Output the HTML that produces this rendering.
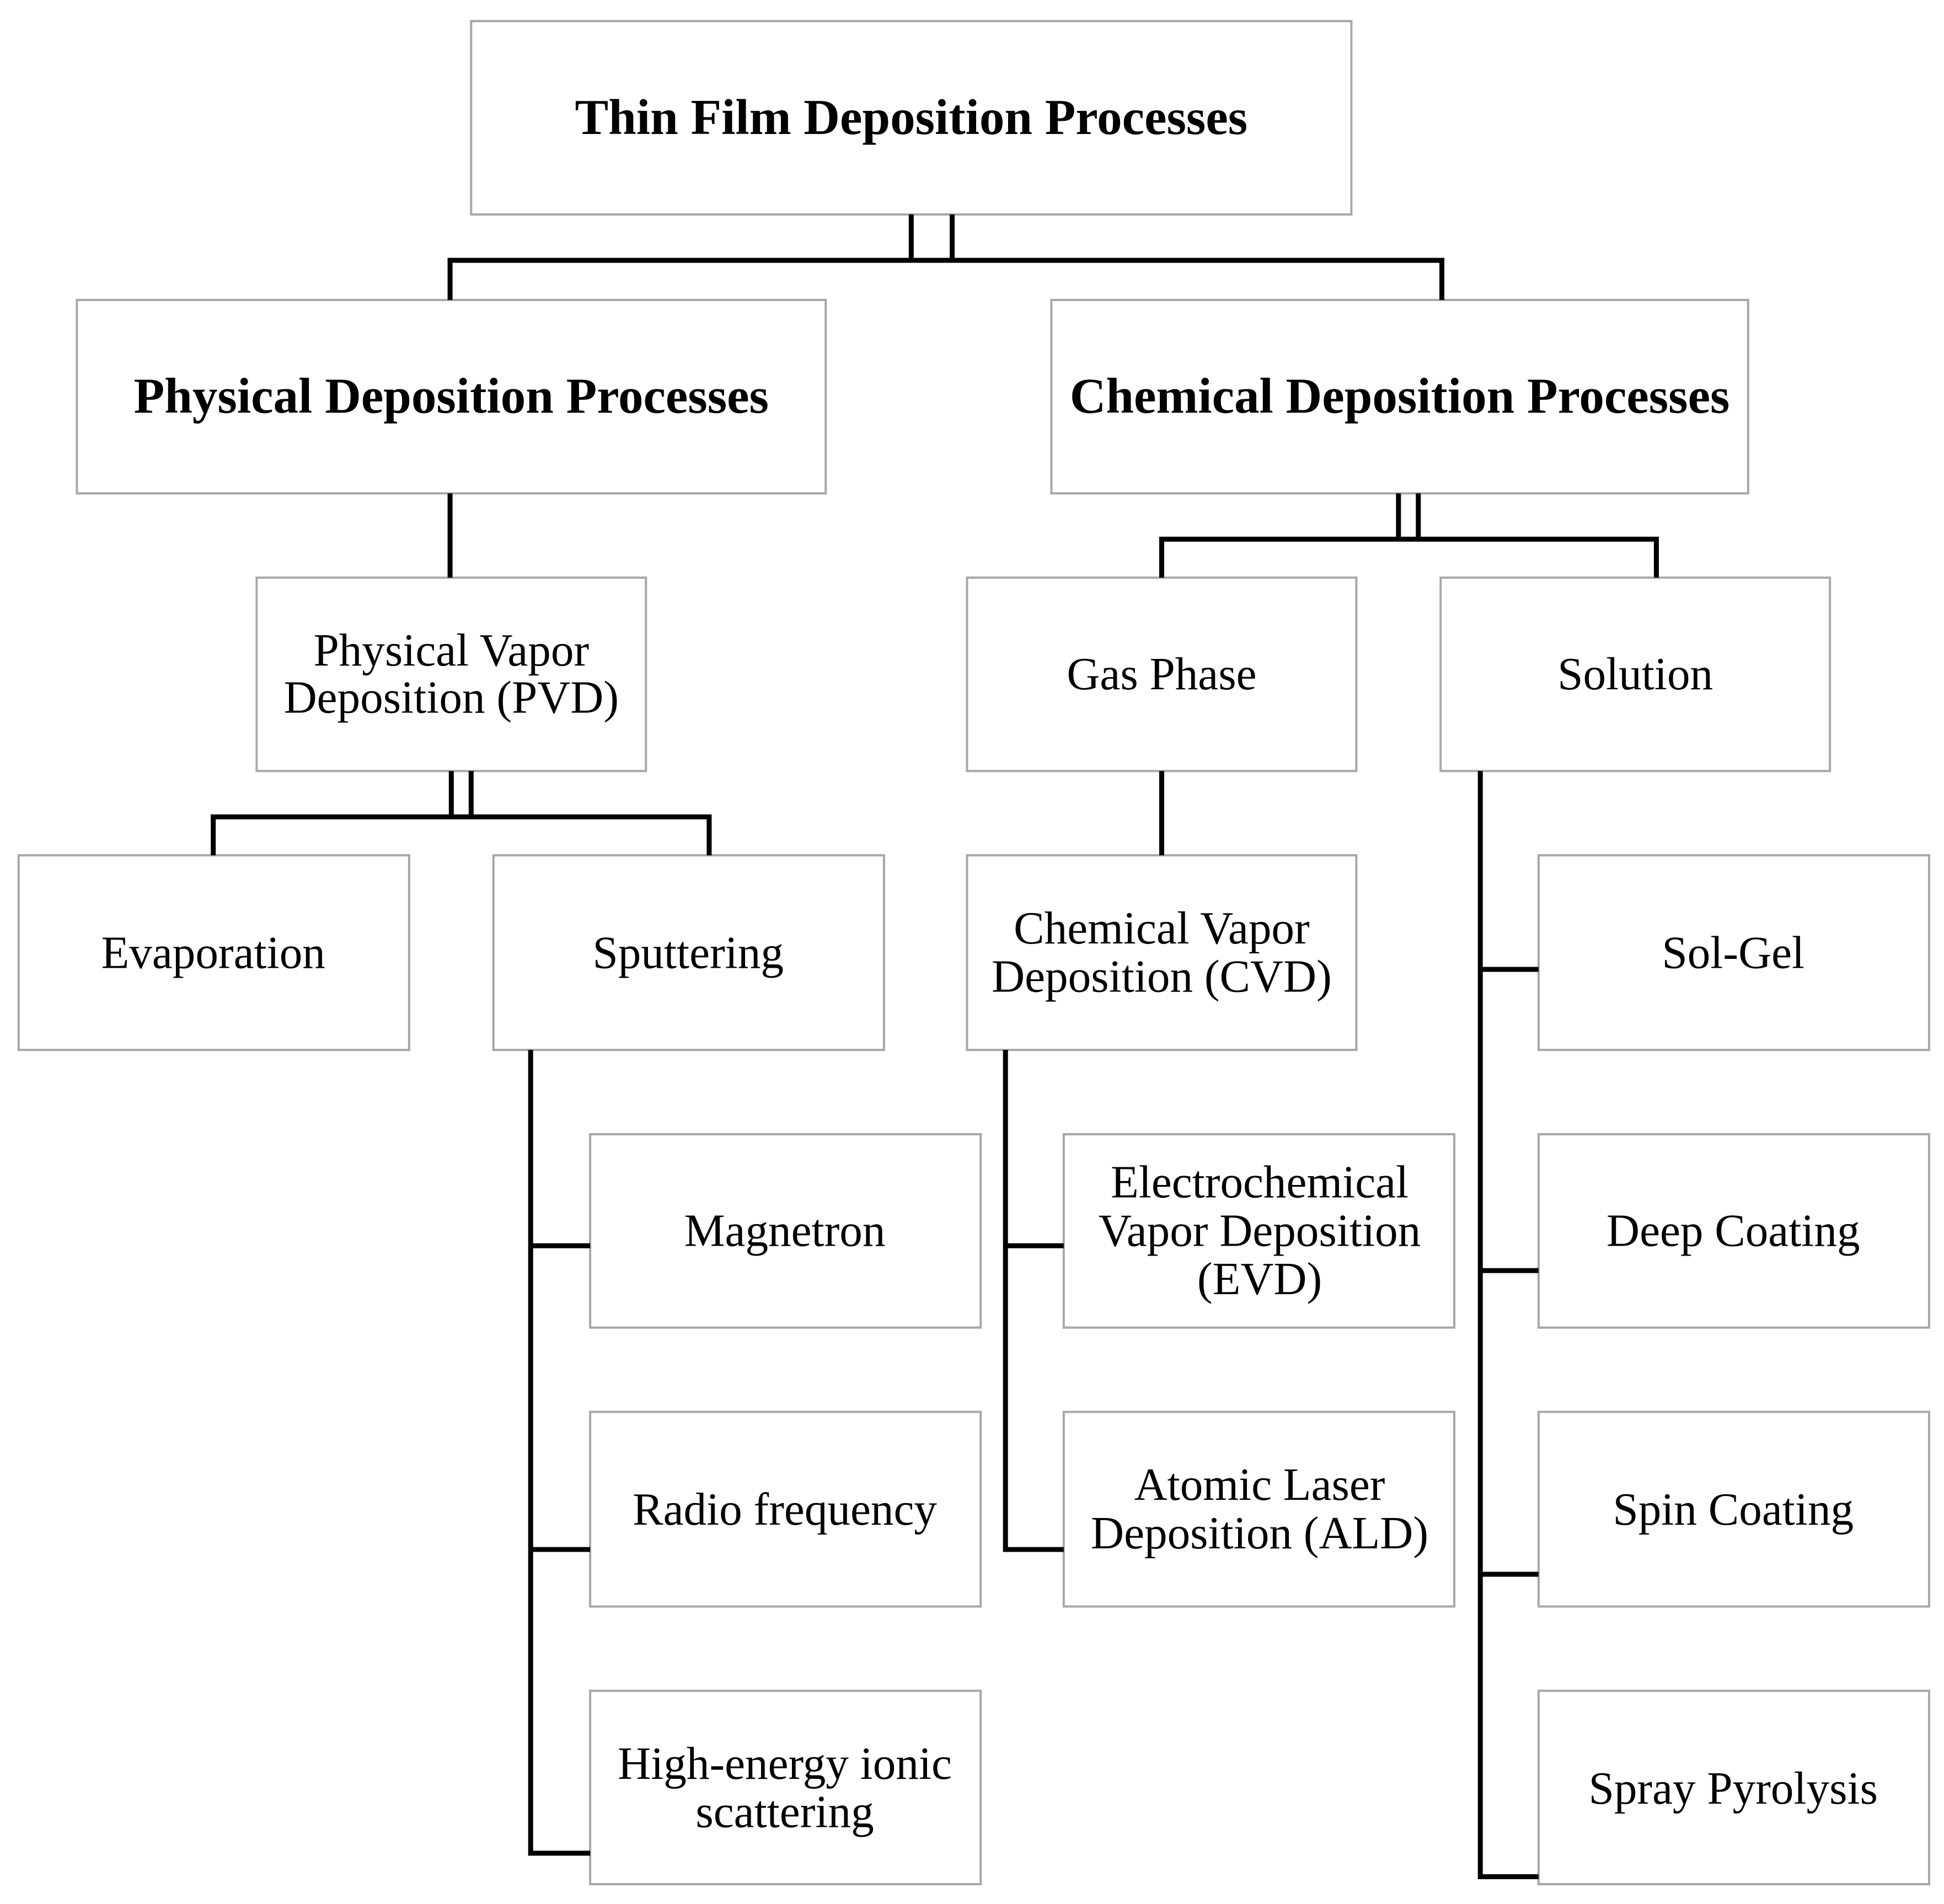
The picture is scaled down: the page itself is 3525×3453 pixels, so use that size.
<!DOCTYPE html>
<html><head><meta charset="utf-8"><style>html,body{margin:0;padding:0;background:#fff}svg{display:block}</style></head><body>
<svg xmlns="http://www.w3.org/2000/svg" width="3525" height="3453" viewBox="0 0 1568 1536">
<rect width="1568" height="1536" fill="#fff"/>
<g fill="#fff" stroke="#a8a8a8" stroke-width="1.8">
<rect x="380" y="17" width="710" height="156"/>
<rect x="62" y="242" width="604" height="156"/>
<rect x="848" y="242" width="562" height="156"/>
<rect x="207" y="466" width="314" height="156"/>
<rect x="780" y="466" width="314" height="156"/>
<rect x="1162" y="466" width="314" height="156"/>
<rect x="15" y="690" width="315" height="157"/>
<rect x="398" y="690" width="315" height="157"/>
<rect x="780" y="690" width="314" height="157"/>
<rect x="1241" y="690" width="315" height="157"/>
<rect x="476" y="915" width="315" height="156"/>
<rect x="858" y="915" width="315" height="156"/>
<rect x="1241" y="915" width="315" height="156"/>
<rect x="476" y="1139" width="315" height="157"/>
<rect x="858" y="1139" width="315" height="157"/>
<rect x="1241" y="1139" width="315" height="157"/>
<rect x="476" y="1364" width="315" height="156"/>
<rect x="1241" y="1364" width="315" height="156"/>
</g>
<g fill="none" stroke="#000" stroke-width="4" stroke-linecap="square">
<path d="M735 175V210M768 175V210M363 210H1163M363 210V240M1163 210V240"/>
<path d="M363 400V464"/>
<path d="M1128 400V435M1144 400V435M937 435H1336M937 435V464M1336 435V464"/>
<path d="M364 624V659M380 624V659M172 659H572M172 659V688M572 659V688"/>
<path d="M937 624V688"/>
<path d="M428 849V1495M428 1005H474M428 1250H474M428 1495H474"/>
<path d="M811 849V1250M811 1005H856M811 1250H856"/>
<path d="M1194 624V1514M1194 782H1239M1194 1025H1239M1194 1270H1239M1194 1514H1239"/>
</g>
<g font-family="Liberation Serif, serif" text-anchor="middle" fill="#000">
<g font-weight="bold" font-size="40.5">
<text x="735" y="108">Thin Film Deposition Processes</text>
<text x="364" y="333">Physical Deposition Processes</text>
<text x="1129" y="333">Chemical Deposition Processes</text>
</g>
<g font-size="37">
<text x="364" y="537">Physical Vapor</text>
<text x="364" y="575">Deposition (PVD)</text>
<text x="937" y="556">Gas Phase</text>
<text x="1319" y="556">Solution</text>
<text x="172" y="781">Evaporation</text>
<text x="555" y="781">Sputtering</text>
<text x="937" y="761">Chemical Vapor</text>
<text x="937" y="800">Deposition (CVD)</text>
<text x="1398" y="781">Sol-Gel</text>
<text x="633" y="1005">Magnetron</text>
<text x="1016" y="966">Electrochemical</text>
<text x="1016" y="1005">Vapor Deposition</text>
<text x="1016" y="1044">(EVD)</text>
<text x="1398" y="1005">Deep Coating</text>
<text x="633" y="1230">Radio frequency</text>
<text x="1016" y="1210">Atomic Laser</text>
<text x="1016" y="1249">Deposition (ALD)</text>
<text x="1398" y="1230">Spin Coating</text>
<text x="633" y="1435">High-energy ionic</text>
<text x="633" y="1474">scattering</text>
<text x="1398" y="1455">Spray Pyrolysis</text>
</g>
</g>
</svg>
</body></html>
